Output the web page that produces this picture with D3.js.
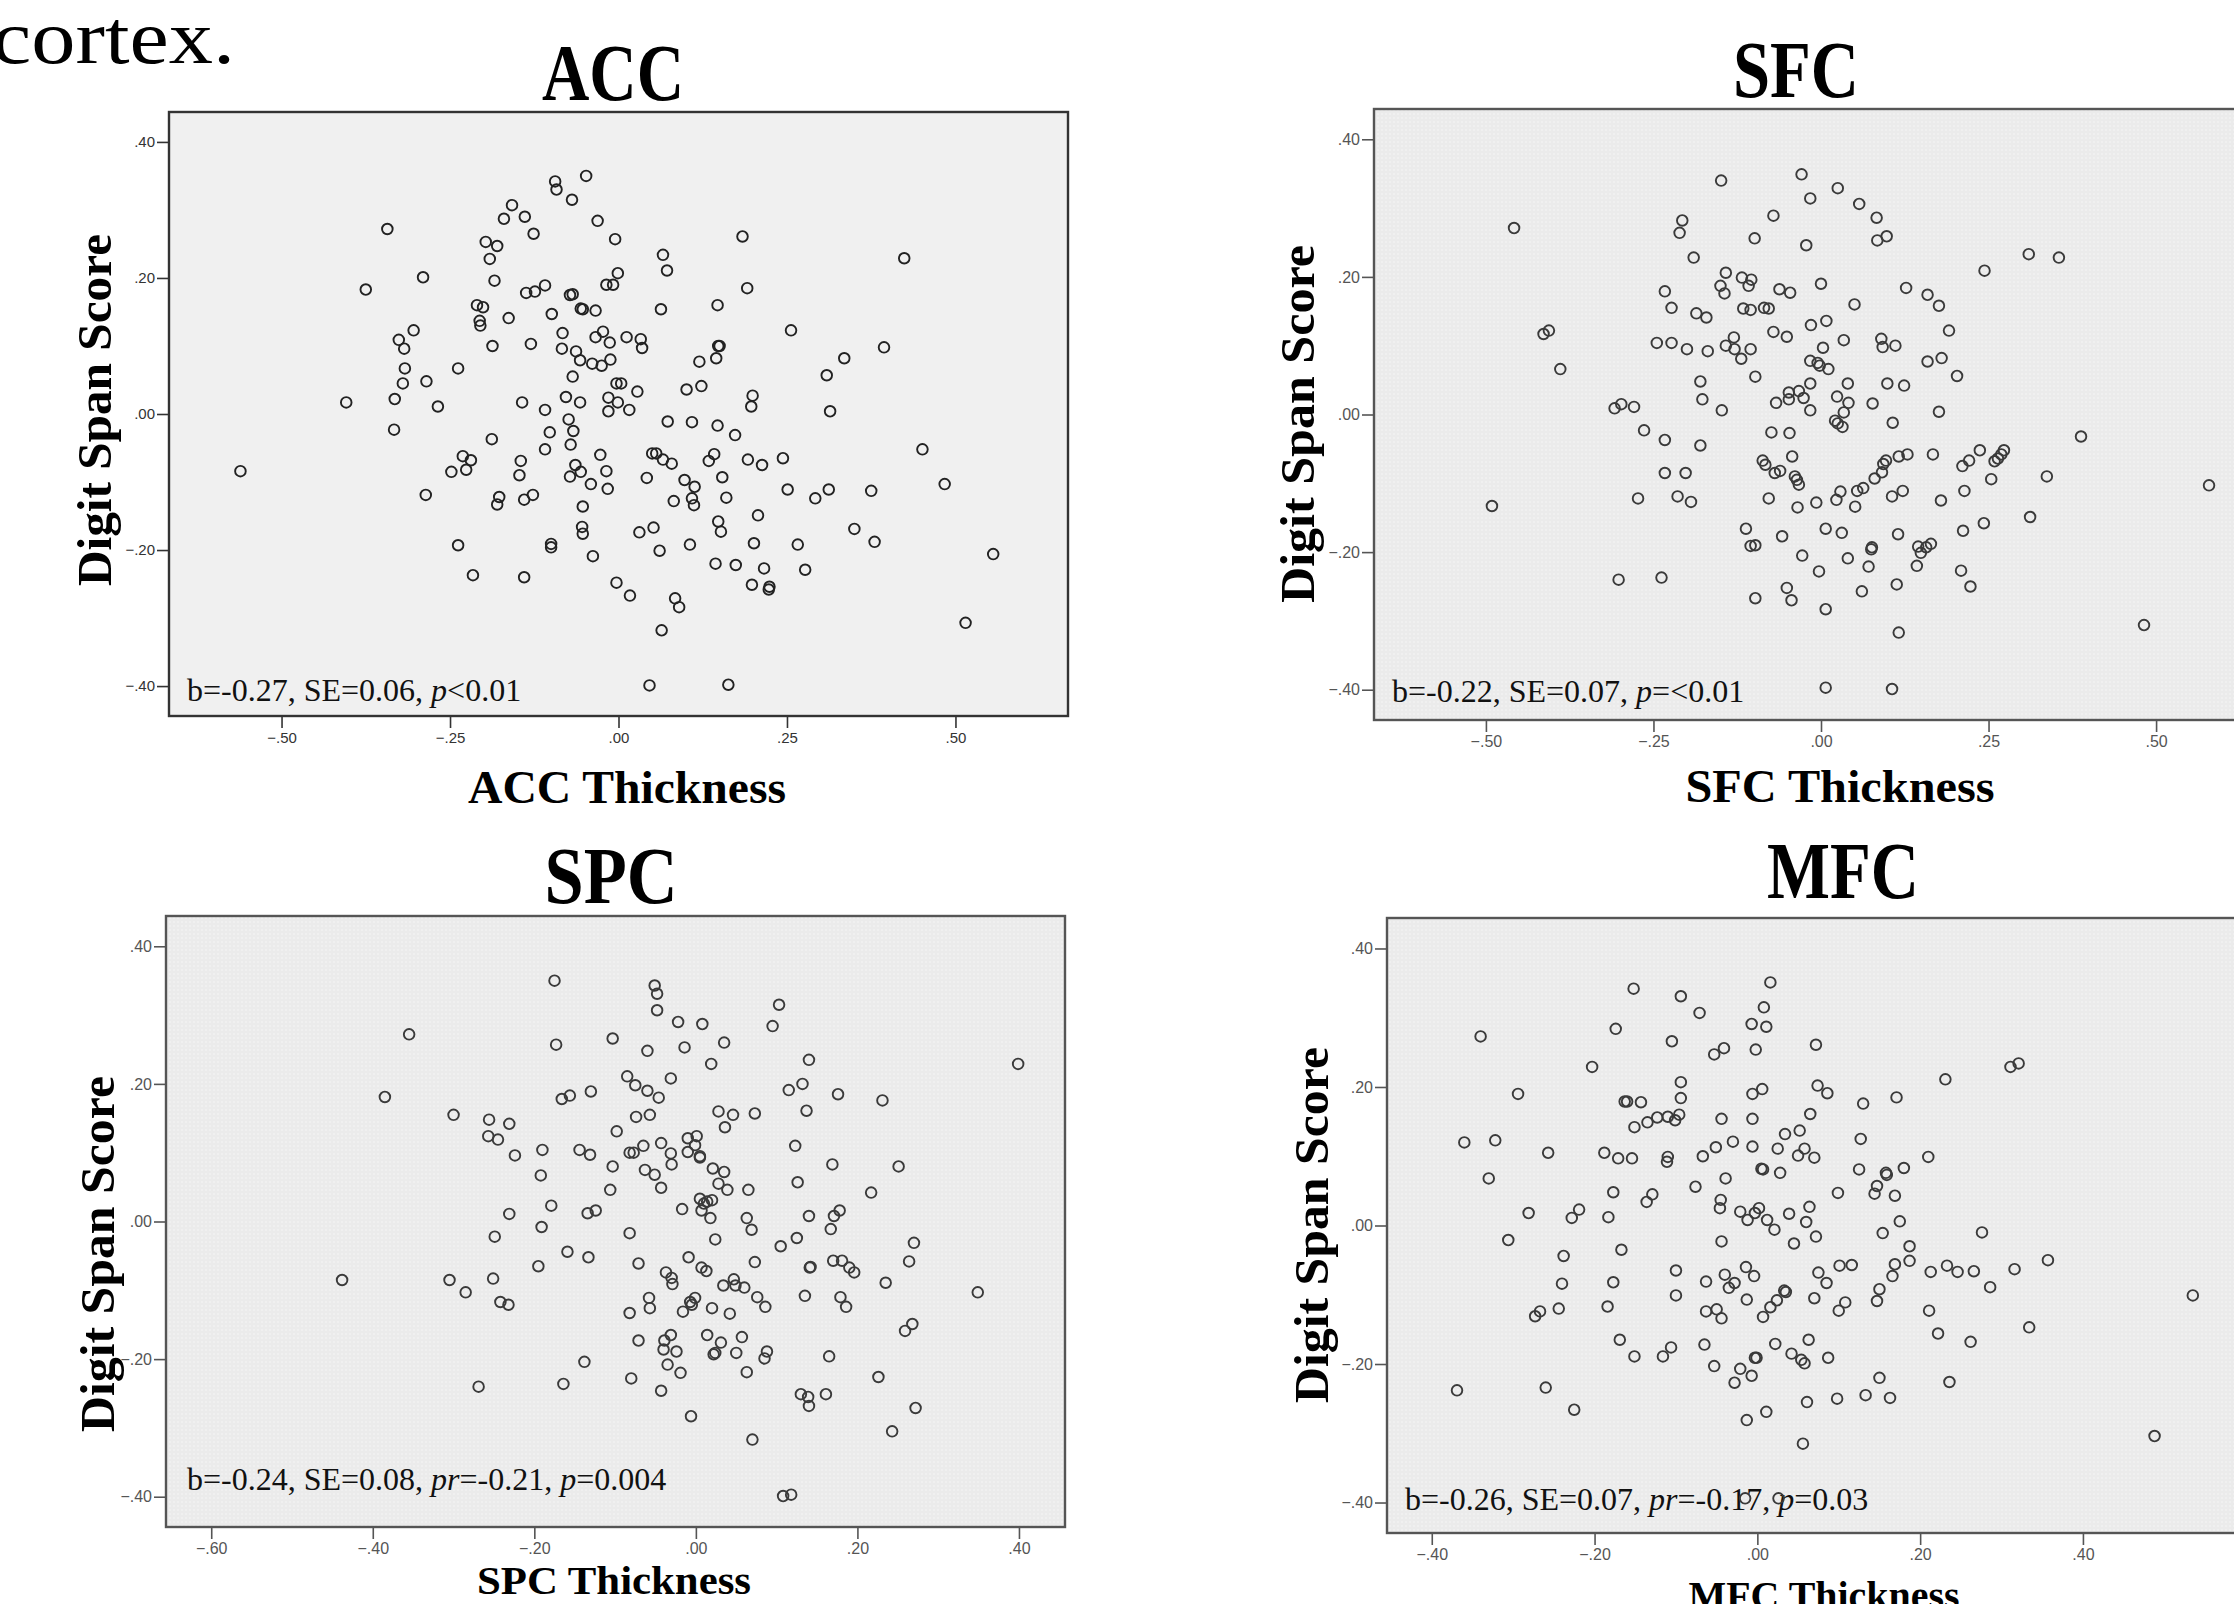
<!DOCTYPE html>
<html>
<head>
<meta charset="utf-8">
<script src="https://cdn.jsdelivr.net/npm/d3@7"></script>
<style>
  body { margin: 0; background: #fff; }
  svg { display: block; }
</style>
</head>
<body>
<svg id="chart" width="2234" height="1604"></svg>
<script>
// values: [thickness, digit span score]
const accPoints = [
  [-0.561,-0.084],[-0.404,0.017],[-0.375,0.183],[-0.343,0.272],[-0.290,0.201],[-0.326,0.109],[-0.318,0.096],[-0.304,0.123],
  [-0.317,0.067],[-0.320,0.045],[-0.332,0.022],[-0.333,-0.023],[-0.285,0.048],[-0.268,0.011],[-0.238,0.067],[-0.286,-0.119],
  [-0.248,-0.085],[-0.231,-0.062],[-0.219,-0.068],[-0.226,-0.082],[-0.238,-0.193],[-0.216,-0.237],[-0.197,0.253],[-0.180,0.247],
  [-0.191,0.228],[-0.170,0.287],[-0.158,0.307],[-0.139,0.290],[-0.126,0.265],[-0.184,0.196],[-0.210,0.160],[-0.201,0.157],
  [-0.206,0.137],[-0.205,0.130],[-0.187,0.100],[-0.163,0.141],[-0.137,0.178],[-0.124,0.180],[-0.109,0.189],[-0.099,0.147],
  [-0.130,0.103],[-0.094,0.342],[-0.092,0.330],[-0.069,0.315],[-0.048,0.350],[-0.031,0.284],[-0.083,0.119],[-0.084,0.096],
  [-0.072,0.175],[-0.068,0.176],[-0.056,0.155],[-0.053,0.154],[-0.034,0.152],[-0.063,0.092],[-0.057,0.079],[-0.039,0.074],
  [-0.034,0.113],[-0.023,0.121],[-0.025,0.071],[-0.013,0.105],[-0.012,0.080],[-0.018,0.190],[-0.008,0.190],[-0.001,0.207],
  [-0.005,0.257],[-0.068,0.055],[-0.078,0.025],[-0.057,0.017],[-0.109,0.006],[-0.143,0.017],[-0.003,0.045],[-0.015,0.024],
  [-0.015,0.004],[-0.001,0.017],[-0.074,-0.008],[-0.067,-0.025],[-0.102,-0.027],[-0.188,-0.037],[-0.071,-0.045],[-0.109,-0.052],
  [-0.027,-0.060],[-0.064,-0.075],[-0.056,-0.085],[-0.072,-0.092],[-0.018,-0.084],[-0.041,-0.103],[-0.016,-0.110],[-0.145,-0.069],
  [-0.147,-0.090],[-0.177,-0.122],[-0.180,-0.133],[-0.140,-0.126],[-0.127,-0.119],[-0.053,-0.136],[-0.054,-0.166],[-0.053,-0.176],
  [-0.100,-0.191],[-0.100,-0.196],[-0.038,-0.209],[-0.140,-0.240],[-0.003,-0.248],
  [0.004,0.045],[0.016,0.006],[0.066,0.234],[0.072,0.211],[0.063,0.154],[0.184,0.261],[0.191,0.185],[0.147,0.160],
  [0.256,0.123],[0.424,0.229],[0.394,0.098],[0.335,0.082],[0.309,0.057],[0.314,0.004],[0.012,0.113],[0.033,0.110],
  [0.035,0.097],[0.148,0.100],[0.150,0.100],[0.145,0.082],[0.120,0.077],[0.123,0.041],[0.101,0.036],[0.028,0.033],
  [0.199,0.027],[0.197,0.011],[0.073,-0.011],[0.109,-0.012],[0.147,-0.017],[0.173,-0.031],[0.050,-0.058],[0.056,-0.058],
  [0.066,-0.067],[0.079,-0.073],[0.142,-0.059],[0.134,-0.069],[0.192,-0.067],[0.213,-0.075],[0.244,-0.065],[0.451,-0.052],
  [0.484,-0.103],[0.042,-0.094],[0.098,-0.097],[0.113,-0.107],[0.154,-0.093],[0.082,-0.128],[0.109,-0.124],[0.112,-0.134],
  [0.160,-0.123],[0.251,-0.111],[0.292,-0.124],[0.312,-0.111],[0.375,-0.113],[0.207,-0.149],[0.148,-0.158],[0.152,-0.173],
  [0.031,-0.174],[0.052,-0.167],[0.061,-0.201],[0.106,-0.192],[0.201,-0.190],[0.266,-0.192],[0.350,-0.169],[0.380,-0.188],
  [0.556,-0.206],[0.144,-0.220],[0.174,-0.222],[0.216,-0.227],[0.277,-0.229],[0.198,-0.251],[0.224,-0.254],[0.223,-0.258],
  [0.017,-0.267],[0.084,-0.271],[0.090,-0.284],[0.064,-0.318],[0.515,-0.307],[0.046,-0.399],[0.163,-0.398]
];

const sfcPoints = [
  [-0.458,0.271],[-0.491,-0.133],[-0.414,0.117],[-0.406,0.122],[-0.389,0.066],[-0.308,0.009],[-0.298,0.015],[-0.279,0.011],
  [-0.264,-0.023],[-0.233,-0.037],[-0.273,-0.122],[-0.302,-0.240],[-0.238,-0.237],[-0.233,-0.085],[-0.214,-0.119],[-0.202,-0.085],
  [-0.194,-0.127],[-0.180,-0.045],[-0.177,0.022],[-0.180,0.048],[-0.148,0.006],[-0.245,0.104],[-0.223,0.104],[-0.200,0.095],
  [-0.169,0.092],[-0.233,0.179],[-0.223,0.155],[-0.186,0.147],[-0.171,0.141],[-0.211,0.264],[-0.207,0.282],[-0.190,0.228],
  [-0.149,0.340],[-0.150,0.187],[-0.142,0.206],[-0.144,0.176],[-0.118,0.199],[-0.104,0.196],[-0.108,0.187],[-0.116,0.154],
  [-0.105,0.152],[-0.142,0.100],[-0.130,0.112],[-0.129,0.095],[-0.119,0.081],[-0.105,0.095],[-0.099,0.256],[-0.098,0.055],
  [-0.112,-0.166],[-0.105,-0.191],[-0.098,-0.190],[-0.098,-0.267],
  [-0.029,0.349],[0.025,0.329],[-0.016,0.314],[0.057,0.306],[-0.071,0.289],[0.083,0.286],[0.084,0.253],[0.098,0.259],
  [-0.022,0.246],[0.310,0.233],[0.355,0.228],[0.244,0.209],[0.000,0.190],[-0.062,0.182],[-0.046,0.177],[0.127,0.184],
  [0.159,0.174],[0.176,0.158],[0.050,0.160],[-0.085,0.155],[-0.078,0.154],[-0.015,0.130],[0.008,0.136],[-0.071,0.120],
  [-0.051,0.113],[0.191,0.122],[0.034,0.108],[0.090,0.110],[0.092,0.098],[0.111,0.100],[0.003,0.097],[-0.016,0.078],
  [-0.005,0.075],[-0.002,0.071],[0.011,0.066],[0.159,0.077],[0.180,0.082],[0.203,0.056],[-0.016,0.045],[0.040,0.045],
  [0.099,0.045],[0.124,0.042],[-0.048,0.032],[-0.033,0.034],[-0.048,0.022],[-0.026,0.024],[-0.067,0.017],[-0.016,0.006],
  [0.024,0.026],[0.041,0.017],[0.034,0.003],[0.077,0.016],[0.176,0.004],[0.021,-0.009],[0.025,-0.013],[0.032,-0.018],
  [0.107,-0.012],[-0.074,-0.026],[-0.047,-0.027],[0.388,-0.032],[-0.043,-0.061],[-0.087,-0.067],[-0.083,-0.073],[-0.069,-0.085],
  [-0.061,-0.082],[-0.039,-0.090],[-0.036,-0.095],[-0.033,-0.102],[-0.078,-0.122],[-0.035,-0.135],[-0.007,-0.128],[0.023,-0.124],
  [0.029,-0.112],[0.051,-0.134],[0.054,-0.111],[0.063,-0.107],[0.080,-0.093],[0.091,-0.084],[0.093,-0.072],[0.097,-0.067],
  [0.116,-0.061],[0.129,-0.058],[0.167,-0.058],[0.106,-0.119],[0.122,-0.111],[0.179,-0.125],[0.211,-0.075],[0.221,-0.067],
  [0.237,-0.052],[0.259,-0.068],[0.264,-0.064],[0.269,-0.058],[0.273,-0.052],[0.254,-0.094],[0.214,-0.111],[0.337,-0.090],
  [0.579,-0.103],[0.312,-0.149],[0.243,-0.158],[0.212,-0.169],[-0.058,-0.177],[0.007,-0.166],[0.031,-0.172],[0.115,-0.174],
  [0.076,-0.193],[0.075,-0.196],[0.145,-0.192],[0.157,-0.193],[0.164,-0.188],[0.149,-0.201],[0.143,-0.220],[-0.028,-0.205],
  [-0.003,-0.228],[0.040,-0.209],[0.071,-0.221],[0.209,-0.227],[0.223,-0.250],[-0.051,-0.252],[-0.044,-0.270],[0.007,-0.283],
  [0.061,-0.257],[0.113,-0.247],[0.116,-0.317],[0.482,-0.306],[0.007,-0.397],[0.106,-0.399]
];

const spcPoints = [
  [-0.438,-0.085],[-0.385,0.181],[-0.355,0.272],[-0.300,0.155],[-0.305,-0.085],[-0.285,-0.103],[-0.269,-0.240],[-0.256,0.148],
  [-0.257,0.124],[-0.245,0.119],[-0.231,0.142],[-0.224,0.096],[-0.231,0.011],[-0.249,-0.022],[-0.251,-0.083],[-0.242,-0.117],
  [-0.232,-0.121],[-0.190,0.104],[-0.192,0.067],[-0.179,0.023],[-0.191,-0.008],[-0.195,-0.065],[-0.159,-0.044],[-0.175,0.350],
  [-0.173,0.257],[-0.166,0.178],[-0.156,0.183],[-0.130,0.189],[-0.144,0.104],[-0.131,0.097],[-0.134,0.012],[-0.124,0.016],
  [-0.133,-0.052],[-0.138,-0.204],[-0.164,-0.236],[-0.103,0.266],[-0.098,0.131],[-0.103,0.080],[-0.106,0.046],
  [-0.051,0.343],[-0.048,0.331],[-0.048,0.307],[-0.022,0.290],[0.008,0.287],[-0.060,0.248],[-0.014,0.253],[0.035,0.260],
  [0.019,0.229],[0.103,0.315],[0.095,0.284],[0.140,0.235],[0.399,0.229],[-0.085,0.211],[-0.075,0.198],[-0.060,0.190],
  [-0.046,0.180],[-0.031,0.208],[-0.074,0.152],[-0.057,0.155],[0.028,0.160],[0.036,0.137],[0.046,0.155],[0.073,0.157],
  [0.115,0.191],[0.132,0.200],[0.137,0.161],[0.176,0.185],[0.231,0.176],[-0.082,0.100],[-0.077,0.100],[-0.065,0.110],
  [-0.043,0.114],[-0.031,0.099],[-0.030,0.083],[-0.063,0.075],[-0.051,0.068],[-0.043,0.049],[-0.010,0.121],[0.001,0.124],
  [-0.001,0.111],[-0.010,0.101],[0.005,0.095],[0.005,0.093],[0.021,0.077],[0.035,0.072],[0.028,0.055],[0.039,0.046],
  [0.065,0.046],[0.123,0.110],[0.126,0.057],[0.169,0.083],[0.251,0.080],[0.217,0.042],[-0.017,0.018],[0.005,0.033],
  [0.010,0.026],[0.014,0.029],[0.007,0.016],[0.020,0.031],[0.018,0.005],[0.024,-0.026],[0.063,0.005],[0.069,-0.012],
  [0.140,0.008],[0.171,0.008],[0.178,0.016],[0.167,-0.011],[-0.082,-0.017],[0.105,-0.036],[0.125,-0.024],[0.270,-0.031],
  [0.264,-0.058],[-0.071,-0.061],[-0.009,-0.052],[0.007,-0.067],[0.013,-0.072],[-0.037,-0.074],[-0.030,-0.082],[-0.029,-0.091],
  [0.047,-0.084],[0.034,-0.093],[0.049,-0.093],[0.060,-0.096],[0.073,-0.059],[0.141,-0.067],[0.142,-0.066],[0.170,-0.057],
  [0.181,-0.057],[0.190,-0.067],[0.196,-0.074],[0.235,-0.089],[0.349,-0.103],[-0.058,-0.111],[-0.057,-0.126],[-0.082,-0.133],
  [-0.016,-0.131],[-0.005,-0.121],[-0.001,-0.111],[-0.007,-0.117],[0.020,-0.126],[0.042,-0.134],[0.076,-0.110],[0.086,-0.124],
  [0.135,-0.108],[0.179,-0.110],[0.186,-0.124],[0.259,-0.159],[0.268,-0.149],[-0.071,-0.173],[-0.039,-0.173],[-0.031,-0.165],
  [-0.040,-0.186],[-0.024,-0.189],[-0.035,-0.208],[-0.019,-0.220],[0.014,-0.165],[0.031,-0.176],[0.024,-0.191],[0.022,-0.193],
  [0.050,-0.191],[0.057,-0.168],[0.063,-0.219],[0.085,-0.199],[0.088,-0.189],[0.165,-0.196],[0.226,-0.226],[-0.080,-0.228],
  [-0.043,-0.246],[-0.006,-0.283],[0.070,-0.317],[0.130,-0.251],[0.139,-0.255],[0.140,-0.268],[0.161,-0.251],[0.272,-0.271],
  [0.243,-0.305],[0.108,-0.399],[0.118,-0.397]
];

const mfcPoints = [
  [-0.369,-0.238],[-0.360,0.120],[-0.340,0.273],[-0.330,0.068],[-0.322,0.123],[-0.306,-0.021],[-0.294,0.190],[-0.281,0.018],
  [-0.273,-0.131],[-0.267,-0.124],[-0.260,-0.234],[-0.257,0.105],[-0.244,-0.120],[-0.240,-0.084],[-0.238,-0.044],[-0.228,0.011],
  [-0.219,0.023],[-0.225,-0.266],[-0.203,0.229],[-0.188,0.105],[-0.183,0.012],[-0.184,-0.117],[-0.177,0.048],[-0.177,-0.082],
  [-0.171,0.097],[-0.174,0.284],[-0.167,-0.035],[-0.169,-0.165],[-0.163,0.179],[-0.160,0.179],[-0.154,0.097],[-0.151,0.142],
  [-0.151,-0.189],[-0.152,0.342],[-0.143,0.178],[-0.136,0.034],[-0.129,0.045],[-0.135,0.149],[-0.123,0.156],[-0.116,-0.189],
  [-0.106,-0.176],[-0.110,0.157],[-0.101,0.152],[-0.096,0.160],[-0.110,0.099],[-0.111,0.092],[-0.094,0.331],[-0.105,0.266],
  [-0.094,0.207],[-0.094,0.184],[-0.100,-0.065],[-0.100,-0.101],[-0.076,0.056],[-0.071,0.307],[-0.067,0.100],[-0.065,-0.172],
  [-0.063,-0.081],[-0.063,-0.124],[-0.050,-0.121],[-0.044,-0.134],[-0.053,-0.203],[-0.053,0.247],[-0.041,0.256],[-0.051,0.113],
  [-0.044,0.154],[-0.045,0.037],[-0.046,0.025],[-0.044,-0.023],[-0.039,0.068],[-0.040,-0.071],[-0.035,-0.090],[-0.028,-0.083],
  [-0.030,0.121],[-0.021,0.020],[-0.012,0.008],[-0.014,-0.060],[-0.013,-0.107],[-0.028,-0.227],[-0.021,-0.207],[-0.007,-0.217],
  [-0.013,-0.281],[-0.007,0.291],[-0.006,0.190],[-0.006,0.154],[-0.006,0.114],
  [0.016,0.351],[0.008,0.315],[0.011,0.287],[-0.002,0.254],[0.072,0.261],[0.006,0.197],[0.074,0.202],[0.086,0.191],
  [0.065,0.161],[0.130,0.176],[0.171,0.185],[0.231,0.211],[0.311,0.229],[0.321,0.234],[0.025,0.111],[0.034,0.132],
  [0.052,0.137],[0.058,0.111],[0.050,0.101],[0.070,0.098],[0.127,0.125],[0.005,0.082],[0.007,0.081],[0.028,0.076],
  [0.125,0.081],[0.158,0.076],[0.159,0.073],[0.147,0.057],[0.144,0.046],[0.180,0.083],[0.210,0.099],[0.099,0.047],
  [0.169,0.043],[0.002,0.025],[-0.003,0.018],[0.012,0.008],[0.021,-0.006],[0.039,0.017],[0.064,0.027],[0.060,0.005],
  [0.072,-0.016],[0.045,-0.026],[0.175,0.006],[0.154,-0.011],[0.187,-0.030],[0.187,-0.051],[0.276,-0.010],[-0.004,-0.073],
  [0.075,-0.068],[0.085,-0.083],[0.101,-0.058],[0.116,-0.057],[0.169,-0.056],[0.166,-0.073],[0.213,-0.067],[0.233,-0.058],
  [0.246,-0.067],[0.266,-0.066],[0.286,-0.089],[0.316,-0.063],[0.357,-0.050],[0.535,-0.101],[0.033,-0.094],[0.035,-0.096],
  [0.024,-0.108],[0.016,-0.118],[0.007,-0.132],[0.070,-0.105],[0.108,-0.111],[0.100,-0.123],[0.150,-0.092],[0.147,-0.109],
  [0.211,-0.123],[0.222,-0.156],[0.262,-0.168],[0.334,-0.147],[0.063,-0.165],[0.022,-0.171],[-0.003,-0.191],[-0.001,-0.191],
  [0.042,-0.185],[0.054,-0.194],[0.058,-0.199],[0.087,-0.191],[0.150,-0.220],[0.236,-0.226],[0.011,-0.269],[0.061,-0.255],
  [0.098,-0.250],[0.133,-0.245],[0.163,-0.249],[0.056,-0.315],[0.488,-0.304],[-0.015,-0.394],[0.026,-0.394]
];

const yTickValues = [-0.4, -0.2, 0, 0.2, 0.4];
const xTicksQuarters = [-0.5, -0.25, 0, 0.25, 0.5];
const xTicksSpc = [-0.6, -0.4, -0.2, 0, 0.2, 0.4];
const xTicksMfc = [-0.4, -0.2, 0, 0.2, 0.4];

// stats lines, [text, italic]
const accStats = [["b=-0.27, SE=0.06, ", false], ["p", true], ["<0.01", false]];
const sfcStats = [["b=-0.22, SE=0.07, ", false], ["p", true], ["=<0.01", false]];
const spcStats = [["b=-0.24, SE=0.08, ", false], ["pr", true], ["=-0.21, ", false], ["p", true], ["=0.004", false]];
const mfcStats = [["b=-0.26, SE=0.07, ", false], ["pr", true], ["=-0.17, ", false], ["p", true], ["=0.03", false]];

const serif = "'Liberation Serif', 'Times New Roman', serif";
const sans = "'Liberation Sans', Arial, sans-serif";

const panels = [
  { name: "ACC", points: accPoints, xDomain: [-0.667, 0.667], xTicks: xTicksQuarters, stats: accStats,
    box: { l: 169, r: 1068, t: 112, b: 716 }, dotted: false,
    title: { cx: 613, y: 100, w: 142 }, xLab: { cx: 627, y: 803, w: 318, size: 47 },
    yLab: { x: 111, cy: 410, len: 352 }, st: { x: 187, y: 701 } },
  { name: "SFC", points: sfcPoints, xDomain: [-0.667, 0.667], xTicks: xTicksQuarters, stats: sfcStats,
    box: { l: 1374, r: 2268, t: 109, b: 720 }, dotted: true,
    title: { cx: 1796, y: 97, w: 126 }, xLab: { cx: 1840, y: 802, w: 309, size: 46 },
    yLab: { x: 1314, cy: 424, len: 358 }, st: { x: 1392, y: 702 } },
  { name: "SPC", points: spcPoints, xDomain: [-0.656, 0.457], xTicks: xTicksSpc, stats: spcStats,
    box: { l: 166, r: 1065, t: 916, b: 1527 }, dotted: true,
    title: { cx: 611, y: 903, w: 133 }, xLab: { cx: 614, y: 1594, w: 274, size: 41 },
    yLab: { x: 114, cy: 1254, len: 356 }, st: { x: 187, y: 1490 } },
  { name: "MFC", points: mfcPoints, xDomain: [-0.455, 0.62], xTicks: xTicksMfc, stats: mfcStats,
    box: { l: 1387, r: 2262, t: 918, b: 1533 }, dotted: true,
    title: { cx: 1843, y: 898, w: 152 }, xLab: { cx: 1824, y: 1609, w: 271, size: 39 },
    yLab: { x: 1328, cy: 1225, len: 356 }, st: { x: 1405, y: 1510 } }
];

const svg = d3.select("#chart");
const tickFmt = v => d3.format(".2f")(v).replace("0.", ".");

// dotted spss-like background
const pat = svg.append("defs").append("pattern")
  .attr("id", "dots").attr("width", 4).attr("height", 4)
  .attr("patternUnits", "userSpaceOnUse");
pat.append("rect").attr("width", 4).attr("height", 4).attr("fill", "#ebebeb");
pat.append("circle").attr("cx", 2).attr("cy", 2).attr("r", 0.8).attr("fill", "#f8f8f8");

svg.append("text")
  .attr("x", -8).attr("y", 63)
  .attr("font-family", serif).attr("font-size", 76)
  .attr("textLength", 243).attr("lengthAdjust", "spacingAndGlyphs")
  .text("cortex.");

panels.forEach(p => {
  const g = svg.append("g");
  const x = d3.scaleLinear().domain(p.xDomain).range([p.box.l, p.box.r]);
  const y = d3.scaleLinear().domain([-0.444, 0.444]).range([p.box.b, p.box.t]);
  const dark = p.dotted ? "#3a3a3a" : "#222";

  g.append("rect")
    .attr("x", p.box.l).attr("y", p.box.t)
    .attr("width", p.box.r - p.box.l).attr("height", p.box.b - p.box.t)
    .attr("fill", p.dotted ? "url(#dots)" : "#f0f0f0");

  // stats label sits under the markers
  const st = g.append("text")
    .attr("x", p.st.x).attr("y", p.st.y)
    .attr("font-family", serif).attr("font-size", 32).attr("fill", "#111");
  p.stats.forEach(s => {
    st.append("tspan").attr("font-style", s[1] ? "italic" : "normal").text(s[0]);
  });

  g.selectAll("circle.pt")
    .data(p.points)
    .enter()
    .append("circle")
    .attr("class", "pt")
    .attr("cx", d => x(d[0]))
    .attr("cy", d => y(d[1]))
    .attr("r", 5.3)
    .attr("fill", "none")
    .attr("stroke", dark)
    .attr("stroke-width", 1.9);

  g.append("rect")
    .attr("x", p.box.l).attr("y", p.box.t)
    .attr("width", p.box.r - p.box.l).attr("height", p.box.b - p.box.t)
    .attr("fill", "none").attr("stroke", p.dotted ? "#555" : "#333").attr("stroke-width", 2.4);

  const yAxis = g.append("g")
    .attr("transform", `translate(${p.box.l - 1},0)`)
    .call(d3.axisLeft(y).tickValues(yTickValues).tickFormat(tickFmt).tickSize(11).tickPadding(2));
  const xAxis = g.append("g")
    .attr("transform", `translate(0,${p.box.b + 1})`)
    .call(d3.axisBottom(x).tickValues(p.xTicks).tickFormat(tickFmt).tickSize(11).tickPadding(4));
  [yAxis, xAxis].forEach(a => {
    a.select(".domain").remove();
    a.selectAll("line").attr("stroke", p.dotted ? "#555" : "#333").attr("stroke-width", 1.6);
    a.selectAll("text")
      .attr("font-family", sans)
      .attr("font-size", p.dotted ? 16 : 15)
      .attr("fill", p.dotted ? "#555" : "#333");
  });

  svg.append("text")
    .attr("x", p.title.cx - p.title.w / 2).attr("y", p.title.y)
    .attr("font-family", serif).attr("font-weight", "bold").attr("font-size", 80)
    .attr("textLength", p.title.w).attr("lengthAdjust", "spacingAndGlyphs")
    .text(p.name);

  svg.append("text")
    .attr("x", p.xLab.cx - p.xLab.w / 2).attr("y", p.xLab.y)
    .attr("font-family", serif).attr("font-weight", "bold").attr("font-size", p.xLab.size)
    .attr("textLength", p.xLab.w).attr("lengthAdjust", "spacingAndGlyphs")
    .text(p.name + " Thickness");

  svg.append("text")
    .attr("transform", `translate(${p.yLab.x},${p.yLab.cy}) rotate(-90)`)
    .attr("x", -p.yLab.len / 2).attr("y", 0)
    .attr("font-family", serif).attr("font-weight", "bold").attr("font-size", 49)
    .attr("textLength", p.yLab.len).attr("lengthAdjust", "spacingAndGlyphs")
    .text("Digit Span Score");
});
</script>
</body>
</html>
